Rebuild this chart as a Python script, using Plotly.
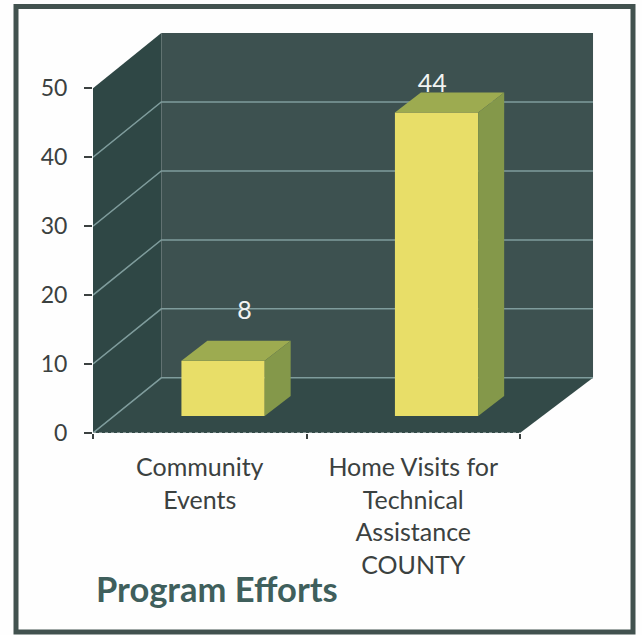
import plotly.graph_objects as go

categories = ["Community<br>Events", "Home Visits for<br>Technical<br>Assistance<br>COUNTY"]
values = [8, 44]
value_labels = ["8", "44"]
y_ticks = [0, 10, 20, 30, 40, 50]
chart_title = "Program Efforts"

# 3-D projection, in axis units
W, H = 642, 635
ML, MR, MT, MB = 93, 47, 33, 202
X0, X1 = -0.5, 1.5
Y_MAX = 50
DX, DY = 0.32, 8.0           # full depth of the box
WALL_EXT = 0.022             # slight perspective at the right end of the back wall
BAR_W = 0.39
BAR_SHIFT = 0.01
Z_FRONT, Z_BACK = 0.31, 0.69  # bar depth position, 0 front .. 1 back
LABEL_DX = [0.10, -0.02]
LABEL_DY = [9.4, 6.3]

WALL = "#3d5150"
SIDE = "#2f4745"
FLOOR = "#334a48"
GRID = "#7f9c9c"
FRONT = "#e8de68"
TOP = "#9dab50"
RIGHT = "#84984a"
TEXT = "#3b4140"
FONT = "Lato"


def poly(xs, ys, color):
    return dict(type="path", xref="x", yref="y", layer="below", line_width=0, fillcolor=color,
                path="M" + " L".join(f"{a},{b}" for a, b in zip(xs, ys)) + " Z")


XR = X1 + DX + WALL_EXT
shapes = [
    poly([X0 + DX, XR, XR, X0 + DX], [DY, DY, Y_MAX + DY, Y_MAX + DY], WALL),
    poly([X0, X0 + DX, X0 + DX, X0], [0, DY, Y_MAX + DY, Y_MAX], SIDE),
    poly([X0, X1, XR, X0 + DX], [0, 0, DY, DY], FLOOR),
]
for v in y_ticks[:-1]:
    shapes.append(dict(type="path", xref="x", yref="y", layer="below",
                       line=dict(color=GRID, width=1.5),
                       path=f"M{X0},{v} L{X0 + DX},{v + DY} L{XR},{v + DY}"))
shapes.append(dict(type="line", xref="x", yref="y", layer="below", x0=X0, x1=X1, y0=0, y1=0,
                   line=dict(color="#9aa8a6", width=1.5, dash="dot")))
# page frame
shapes.append(dict(type="rect", xref="paper", yref="paper", layer="above",
                   x0=(16 - ML) / (W - ML - MR), x1=(633 - ML) / (W - ML - MR),
                   y0=(H - MB - 632) / (H - MT - MB), y1=(H - MB - 6.5) / (H - MT - MB),
                   line=dict(color="#42524f", width=5)))

xc = [i + DX * Z_FRONT + BAR_SHIFT for i in range(len(values))]
base = DY * Z_FRONT
ddx = DX * (Z_BACK - Z_FRONT)
ddy = DY * (Z_BACK - Z_FRONT) * 0.95

fig = go.Figure()
fig.add_trace(go.Bar(x=xc, y=values, base=[base] * len(values), width=BAR_W,
                     marker=dict(color=FRONT, line=dict(width=0)), hoverinfo="skip"))
fig.add_trace(go.Scatter(
    x=[c + d for c, d in zip(xc, LABEL_DX)],
    y=[v + d for v, d in zip(values, LABEL_DY)],
    mode="text", text=value_labels,
    textfont=dict(family=FONT, size=25, color="#f2f4f2"), hoverinfo="skip"))
for c, v in zip(xc, values):
    l, r = c - BAR_W / 2, c + BAR_W / 2
    t = base + v
    fig.add_trace(go.Scatter(x=[l, r, r + ddx, l + ddx, l], y=[t, t, t + ddy, t + ddy, t],
                             mode="lines", line_width=0, fill="toself", fillcolor=TOP, hoverinfo="skip"))
    fig.add_trace(go.Scatter(x=[r, r + ddx, r + ddx, r, r], y=[base, base + ddy, t + ddy, t, base],
                             mode="lines", line_width=0, fill="toself", fillcolor=RIGHT, hoverinfo="skip"))

fig.update_layout(
    width=W, height=H, margin=dict(l=ML, r=MR, t=MT, b=MB, autoexpand=False),
    paper_bgcolor="#fefefe", plot_bgcolor="rgba(0,0,0,0)", showlegend=False,
    font=dict(family=FONT, color=TEXT), shapes=shapes,
    xaxis=dict(range=[X0, X0 + (W - ML - MR) / 213.5], tickmode="array", tickvals=list(range(len(values))),
               ticktext=categories,
               ticks="", showgrid=False, zeroline=False, showline=False,
               tickfont=dict(size=25, color=TEXT), ticklabelstandoff=17,
               minor=dict(ticks="outside", tick0=X0, dtick=1, ticklen=5, tickcolor=TEXT, tickwidth=1.5, showgrid=False)),
    yaxis=dict(range=[0, Y_MAX + DY], tickmode="array", tickvals=y_ticks, ticks="outside", ticklen=8,
               tickwidth=1.5, tickcolor=TEXT, showgrid=False, zeroline=False, showline=False,
               ticklabelstandoff=12, tickfont=dict(size=23, color=TEXT)),
    annotations=[dict(text=f"<b>{chart_title}</b>", xref="paper", yref="paper", showarrow=False,
                      x=(94 - ML) / (W - ML - MR), y=(H - MB - 588) / (H - MT - MB), xanchor="left", yanchor="middle",
                      font=dict(family=FONT, size=34.5, color="#3f5f5c"))],
)
fig.write_html("out.html", config=dict(displayModeBar=False),
               post_script="document.body.style.margin='0';document.body.style.overflow='hidden';")
